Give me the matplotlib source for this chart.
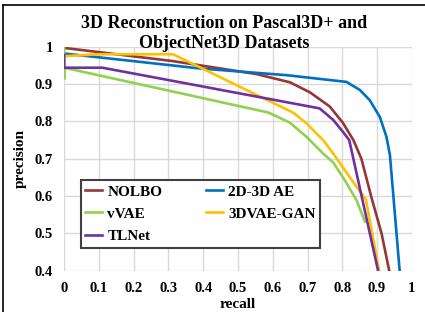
import numpy as np
import matplotlib
matplotlib.use("Agg")
import matplotlib.pyplot as plt
from matplotlib.lines import Line2D

# values
nolbo_r = [0, 0.31, 0.553, 0.649, 0.707, 0.764, 0.802, 0.832, 0.855, 0.884, 0.913, 0.935]
nolbo_p = [0.997, 0.962, 0.927, 0.905, 0.878, 0.84, 0.796, 0.75, 0.70, 0.596, 0.50, 0.40]

ae_r = [0, 0.39, 0.64, 0.812, 0.851, 0.879, 0.908, 0.927, 0.937, 0.965]
ae_p = [0.982, 0.942, 0.924, 0.906, 0.884, 0.857, 0.812, 0.759, 0.71, 0.40]

vvae_r = [0, 0, 0, 0.587, 0.649, 0.697, 0.745, 0.774, 0.807, 0.841, 0.865]
vvae_p = [1.0, 0.915, 0.944, 0.824, 0.797, 0.759, 0.714, 0.69, 0.643, 0.589, 0.532]

gan_r = [0, 0.1, 0.313, 0.66, 0.697, 0.745, 0.774, 0.807, 0.841, 0.868, 0.906]
gan_p = [0.975, 0.98, 0.98, 0.823, 0.795, 0.75, 0.714, 0.67, 0.625, 0.591, 0.40]

tl_r = [0, 0, 0.11, 0.735, 0.774, 0.802, 0.82, 0.903]
tl_p = [0.978, 0.944, 0.944, 0.835, 0.804, 0.772, 0.75, 0.40]

ticks = np.round(np.arange(0, 1.01, 0.1), 1)
yticks = np.round(np.arange(0.4, 1.01, 0.1), 1)

title_lines = ['3D Reconstruction on Pascal3D+ and', 'ObjectNet3D Datasets']

font = 'Liberation Serif'

fig = plt.figure(figsize=(4.25, 3.12), dpi=100)
ax = fig.add_axes([0.151, 0.132, 0.818, 0.718])

lw = 1.9
l1, = ax.plot(nolbo_r, nolbo_p, color='#953735', lw=lw, label='NOLBO')
l2, = ax.plot(ae_r, ae_p, color='#0070C0', lw=lw, label='2D-3D AE')
l3, = ax.plot(vvae_r, vvae_p, color='#92D050', lw=lw, label='vVAE')
l4, = ax.plot(gan_r, gan_p, color='#FFC000', lw=lw, label='3DVAE-GAN')
l5, = ax.plot(tl_r, tl_p, color='#7030A0', lw=lw, label='TLNet')

ax.set_xlim(0, 1)
ax.set_ylim(0.4, 1)
ax.set_xticks(ticks)
ax.set_yticks(yticks)
ax.set_xticklabels(['0' if t == 0 else ('1' if t == 1 else '%g' % t) for t in ticks])
ax.set_yticklabels(['1' if t == 1 else '%g' % t for t in yticks])
for s in ax.spines.values():
    s.set_visible(False)
ax.grid(True, color='#d9d9d9', lw=1)
ax.set_axisbelow(True)
ax.tick_params(length=0, pad=8)
for lab in ax.get_xticklabels() + ax.get_yticklabels():
    lab.set_fontfamily(font)
    lab.set_fontweight('bold')
    lab.set_fontsize(10.5)

ax.set_xlabel('recall', fontfamily=font, fontweight='bold', fontsize=11, labelpad=2)
ax.set_ylabel('precision', fontfamily=font, fontweight='bold', fontsize=11, labelpad=6)

# title: two lines centred a bit left of the axes centre
fig.text(224 / 425, 1 - 28.3 / 312, title_lines[0], ha='center', va='baseline',
         fontfamily=font, fontweight='bold', fontsize=13)
fig.text(224 / 425, 1 - 48.3 / 312, title_lines[1], ha='center', va='baseline',
         fontfamily=font, fontweight='bold', fontsize=13)

leg = ax.legend([l1, l3, l5, l2, l4], ['NOLBO', 'vVAE', 'TLNet', '2D-3D AE', '3DVAE-GAN'],
                ncol=2, loc='lower left', bbox_to_anchor=(0.047, 0.104, 0.69, 0.296),
                mode='expand', borderaxespad=0, fancybox=False, framealpha=1,
                edgecolor='#404040', handlelength=1.1, handletextpad=0.35,
                labelspacing=0.55, columnspacing=1.5, borderpad=0.3,
                prop={'family': font, 'weight': 'bold', 'size': 11})
leg.get_frame().set_linewidth(1.5)

# figure border (left and top visible)
fig.add_artist(Line2D([3 / 425, 3 / 425], [0, 1 - 5 / 312], color='black', lw=1.2))
fig.add_artist(Line2D([3 / 425, 1], [1 - 5 / 312, 1 - 5 / 312], color='black', lw=1.2))

fig.savefig('out.png', dpi=100)
